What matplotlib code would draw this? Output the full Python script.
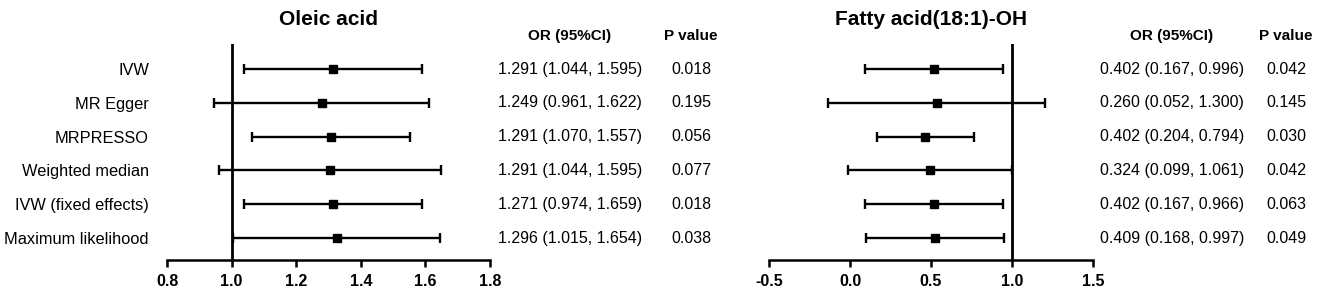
import matplotlib as mpl
mpl.use('Agg')
import matplotlib.pyplot as plt
import matplotlib.transforms as mtransforms

plt.rcParams['font.family'] = ['Liberation Sans', 'DejaVu Sans']

methods = ["IVW", "MR Egger", "MRPRESSO", "Weighted median",
           "IVW (fixed effects)", "Maximum likelihood"]

# Oleic acid (positions as drawn)
oa_est = [1.313, 1.279, 1.309, 1.304, 1.313, 1.325]
oa_lo = [1.037, 0.947, 1.064, 0.960, 1.037, 1.003]
oa_hi = [1.591, 1.612, 1.551, 1.647, 1.591, 1.644]
oa_or = ["1.291 (1.044, 1.595)", "1.249 (0.961, 1.622)", "1.291 (1.070, 1.557)",
         "1.291 (1.044, 1.595)", "1.271 (0.974, 1.659)", "1.296 (1.015, 1.654)"]
oa_p = ["0.018", "0.195", "0.056", "0.077", "0.018", "0.038"]

# Fatty acid(18:1)-OH (positions as drawn)
fa_est = [0.519, 0.537, 0.463, 0.494, 0.519, 0.525]
fa_lo = [0.095, -0.134, 0.165, -0.010, 0.095, 0.099]
fa_hi = [0.946, 1.204, 0.765, 1.000, 0.946, 0.950]
fa_or = ["0.402 (0.167, 0.996)", "0.260 (0.052, 1.300)", "0.402 (0.204, 0.794)",
         "0.324 (0.099, 1.061)", "0.402 (0.167, 0.966)", "0.409 (0.168, 0.997)"]
fa_p = ["0.042", "0.145", "0.030", "0.042", "0.063", "0.049"]

W, H = 1325, 298
fig = plt.figure(figsize=(W / 100, H / 100), dpi=100)


def panel(x0, x1, title, est, lo, hi, ors, ps, xlim, xticks, or_x, p_x, show_labels):
    ax = fig.add_axes([x0 / W, 38 / H, (x1 - x0) / W, 216 / H])
    y = list(range(len(est)))
    xerr = [[e - l for e, l in zip(est, lo)], [h - e for e, h in zip(est, hi)]]
    ax.errorbar(est, y, xerr=xerr, fmt='s', color='black', ms=6, lw=1.7,
                capsize=3.5, capthick=1.7, zorder=3)
    ax.axvline(1.0, color='black', lw=2, zorder=2)
    ax.set_xlim(*xlim)
    ax.set_ylim(5.65, -0.74)
    ax.set_xticks(xticks)
    ax.set_xticklabels([f"{t:.1f}" for t in xticks], fontweight='bold', fontsize=11.5)
    ax.tick_params(axis='x', length=5, width=1.8, pad=5)
    for s in ['top', 'right', 'left']:
        ax.spines[s].set_visible(False)
    ax.spines['bottom'].set_linewidth(1.8)
    ax.set_yticks(y)
    if show_labels:
        ax.set_yticklabels(methods, fontsize=11.8)
    else:
        ax.set_yticklabels([])
    ax.tick_params(axis='y', length=0, pad=13)
    ax.set_title(title, fontweight='bold', fontsize=15, pad=14)

    tr = mtransforms.blended_transform_factory(fig.transFigure, ax.transData)
    ax.text(or_x / W, -0.97, "OR (95%CI)", transform=tr, ha='center', va='center',
            fontweight='bold', fontsize=11)
    ax.text(p_x / W, -0.97, "P value", transform=tr, ha='center', va='center',
            fontweight='bold', fontsize=11)
    for i in y:
        ax.text(or_x / W, i, ors[i], transform=tr, ha='center', va='center', fontsize=11.5)
        ax.text(p_x / W, i, ps[i], transform=tr, ha='center', va='center', fontsize=11.5)
    return ax


panel(167, 490, "Oleic acid", oa_est, oa_lo, oa_hi, oa_or, oa_p,
      (0.8, 1.8), [0.8, 1.0, 1.2, 1.4, 1.6, 1.8], 570, 691, True)
panel(769, 1093, "Fatty acid(18:1)-OH", fa_est, fa_lo, fa_hi, fa_or, fa_p,
      (-0.5, 1.5), [-0.5, 0.0, 0.5, 1.0, 1.5], 1172, 1286, False)

fig.savefig("out.png", dpi=100)
